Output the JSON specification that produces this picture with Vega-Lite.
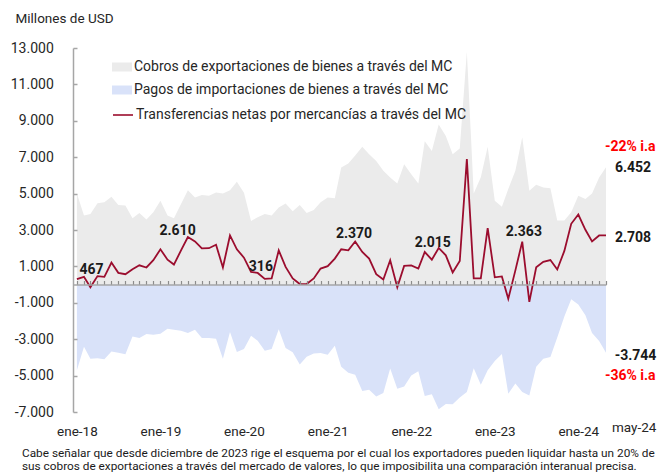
{
  "$schema": "https://vega.github.io/schema/vega-lite/v6.json",
  "width": 533,
  "height": 364,
  "autosize": {"type": "none"},
  "padding": {"left": 73, "top": 48, "right": 53, "bottom": 63},
  "background": "white",
  "config": {
    "font": "Roboto",
    "view": {"stroke": null},
    "axisY": {"labelOverlap": false, "labelSeparation": 0, "labelBound": false}
  },
  "title": {
    "text": [
      "Cabe señalar que desde diciembre de 2023 rige el esquema por el cual los exportadores pueden liquidar hasta un 20% de",
      "sus cobros de exportaciones a través del mercado de valores, lo que imposibilita una comparación interanual precisa."
    ],
    "orient": "bottom",
    "anchor": "start",
    "frame": "group",
    "dx": -51,
    "offset": 10,
    "fontSize": 11.8,
    "fontWeight": "normal",
    "font": "Roboto",
    "color": "#1a1a1a",
    "lineHeight": 13.5,
    "baseline": "top",
    "limit": 0
  },
  "datasets": {
    "main": [
      {"mes": "2018-01-01", "cobros": 5000, "pagos": -4700, "neto": 300},
      {"mes": "2018-02-01", "cobros": 3790, "pagos": -3420, "neto": 425},
      {"mes": "2018-03-01", "cobros": 3880, "pagos": -4080, "neto": -150},
      {"mes": "2018-04-01", "cobros": 4470, "pagos": -4050, "neto": 467},
      {"mes": "2018-05-01", "cobros": 4520, "pagos": -4100, "neto": 425},
      {"mes": "2018-06-01", "cobros": 4830, "pagos": -3670, "neto": 1210},
      {"mes": "2018-07-01", "cobros": 4380, "pagos": -3750, "neto": 645},
      {"mes": "2018-08-01", "cobros": 4340, "pagos": -3830, "neto": 570},
      {"mes": "2018-09-01", "cobros": 3650, "pagos": -2850, "neto": 845},
      {"mes": "2018-10-01", "cobros": 3940, "pagos": -2940, "neto": 1060},
      {"mes": "2018-11-01", "cobros": 3580, "pagos": -2720, "neto": 940},
      {"mes": "2018-12-01", "cobros": 3980, "pagos": -2750, "neto": 1340},
      {"mes": "2019-01-01", "cobros": 4610, "pagos": -2700, "neto": 1940},
      {"mes": "2019-02-01", "cobros": 3790, "pagos": -2430, "neto": 1370},
      {"mes": "2019-03-01", "cobros": 3650, "pagos": -2480, "neto": 1100},
      {"mes": "2019-04-01", "cobros": 4430, "pagos": -2530, "neto": 1880},
      {"mes": "2019-05-01", "cobros": 5190, "pagos": -2660, "neto": 2610},
      {"mes": "2019-06-01", "cobros": 4790, "pagos": -2480, "neto": 2370},
      {"mes": "2019-07-01", "cobros": 4920, "pagos": -2940, "neto": 1990},
      {"mes": "2019-08-01", "cobros": 4880, "pagos": -2940, "neto": 2000},
      {"mes": "2019-09-01", "cobros": 5060, "pagos": -2970, "neto": 2190},
      {"mes": "2019-10-01", "cobros": 5010, "pagos": -4080, "neto": 940},
      {"mes": "2019-11-01", "cobros": 5190, "pagos": -2610, "neto": 2700},
      {"mes": "2019-12-01", "cobros": 5650, "pagos": -3700, "neto": 1940},
      {"mes": "2020-01-01", "cobros": 5050, "pagos": -3540, "neto": 1480},
      {"mes": "2020-02-01", "cobros": 3500, "pagos": -2810, "neto": 700},
      {"mes": "2020-03-01", "cobros": 3700, "pagos": -3080, "neto": 640},
      {"mes": "2020-04-01", "cobros": 3880, "pagos": -3630, "neto": 316},
      {"mes": "2020-05-01", "cobros": 3790, "pagos": -3540, "neto": 340},
      {"mes": "2020-06-01", "cobros": 4240, "pagos": -2450, "neto": 1880},
      {"mes": "2020-07-01", "cobros": 4450, "pagos": -3480, "neto": 970},
      {"mes": "2020-08-01", "cobros": 4030, "pagos": -3720, "neto": 340},
      {"mes": "2020-09-01", "cobros": 4370, "pagos": -4390, "neto": 30},
      {"mes": "2020-10-01", "cobros": 3940, "pagos": -3970, "neto": 30},
      {"mes": "2020-11-01", "cobros": 4100, "pagos": -3790, "neto": 340},
      {"mes": "2020-12-01", "cobros": 4520, "pagos": -3760, "neto": 880},
      {"mes": "2021-01-01", "cobros": 4790, "pagos": -3850, "neto": 1010},
      {"mes": "2021-02-01", "cobros": 4750, "pagos": -3360, "neto": 1430},
      {"mes": "2021-03-01", "cobros": 6430, "pagos": -4520, "neto": 1940},
      {"mes": "2021-04-01", "cobros": 6650, "pagos": -4850, "neto": 1880},
      {"mes": "2021-05-01", "cobros": 7100, "pagos": -4950, "neto": 2370},
      {"mes": "2021-06-01", "cobros": 7570, "pagos": -5850, "neto": 1790},
      {"mes": "2021-07-01", "cobros": 7160, "pagos": -5780, "neto": 1430},
      {"mes": "2021-08-01", "cobros": 6790, "pagos": -6150, "neto": 570},
      {"mes": "2021-09-01", "cobros": 6250, "pagos": -5950, "neto": 280},
      {"mes": "2021-10-01", "cobros": 5880, "pagos": -4610, "neto": 1340},
      {"mes": "2021-11-01", "cobros": 5550, "pagos": -5720, "neto": -150},
      {"mes": "2021-12-01", "cobros": 6610, "pagos": -5600, "neto": 1030},
      {"mes": "2022-01-01", "cobros": 6070, "pagos": -5000, "neto": 1060},
      {"mes": "2022-02-01", "cobros": 5550, "pagos": -4760, "neto": 880},
      {"mes": "2022-03-01", "cobros": 7880, "pagos": -6120, "neto": 1790},
      {"mes": "2022-04-01", "cobros": 7340, "pagos": -6030, "neto": 1370},
      {"mes": "2022-05-01", "cobros": 8790, "pagos": -6850, "neto": 2015},
      {"mes": "2022-06-01", "cobros": 8160, "pagos": -6560, "neto": 1610},
      {"mes": "2022-07-01", "cobros": 7160, "pagos": -6570, "neto": 670},
      {"mes": "2022-08-01", "cobros": 7480, "pagos": -6200, "neto": 1300},
      {"mes": "2022-09-01", "cobros": 12800, "pagos": -5900, "neto": 6900},
      {"mes": "2022-10-01", "cobros": 5000, "pagos": -4600, "neto": 340},
      {"mes": "2022-11-01", "cobros": 5900, "pagos": -5500, "neto": 340},
      {"mes": "2022-12-01", "cobros": 7570, "pagos": -4700, "neto": 3100},
      {"mes": "2023-01-01", "cobros": 4610, "pagos": -4200, "neto": 400},
      {"mes": "2023-02-01", "cobros": 4280, "pagos": -3820, "neto": 450},
      {"mes": "2023-03-01", "cobros": 5250, "pagos": -6000, "neto": -780},
      {"mes": "2023-04-01", "cobros": 6250, "pagos": -5440, "neto": 780},
      {"mes": "2023-05-01", "cobros": 8100, "pagos": -5900, "neto": 2363},
      {"mes": "2023-06-01", "cobros": 5160, "pagos": -6100, "neto": -950},
      {"mes": "2023-07-01", "cobros": 5480, "pagos": -4520, "neto": 950},
      {"mes": "2023-08-01", "cobros": 5340, "pagos": -4080, "neto": 1250},
      {"mes": "2023-09-01", "cobros": 5300, "pagos": -3980, "neto": 1350},
      {"mes": "2023-10-01", "cobros": 3520, "pagos": -2900, "neto": 830},
      {"mes": "2023-11-01", "cobros": 3520, "pagos": -1750, "neto": 1850},
      {"mes": "2023-12-01", "cobros": 3970, "pagos": -800, "neto": 3340},
      {"mes": "2024-01-01", "cobros": 4880, "pagos": -1090, "neto": 3850},
      {"mes": "2024-02-01", "cobros": 4700, "pagos": -1690, "neto": 3010},
      {"mes": "2024-03-01", "cobros": 5010, "pagos": -2660, "neto": 2370},
      {"mes": "2024-04-01", "cobros": 5880, "pagos": -3100, "neto": 2700},
      {"mes": "2024-05-01", "cobros": 6452, "pagos": -3744, "neto": 2708}
    ],
    "etiquetas": [
      {"mes": "2018-03-06", "v": 790, "t": "467", "tipo": "valor"},
      {"mes": "2019-03-17", "v": 2945, "t": "2.610", "tipo": "valor"},
      {"mes": "2020-03-15", "v": 963, "t": "316", "tipo": "valor"},
      {"mes": "2021-04-26", "v": 2807, "t": "2.370", "tipo": "valor"},
      {"mes": "2022-04-05", "v": 2267, "t": "2.015", "tipo": "valor"},
      {"mes": "2023-05-08", "v": 2873, "t": "2.363", "tipo": "valor"},
      {"mes": "2024-08-27", "v": 6395, "t": "6.452", "tipo": "valor"},
      {"mes": "2024-08-27", "v": 2543, "t": "2.708", "tipo": "valor"},
      {"mes": "2024-09-07", "v": -3935, "t": "-3.744", "tipo": "valor"},
      {"mes": "2024-08-15", "v": 7584, "t": "-22% i.a", "tipo": "variacion"},
      {"mes": "2024-08-15", "v": -5019, "t": "-36% i.a", "tipo": "variacion"},
      {"mes": "2024-09-01", "v": -7881, "t": "may-24", "tipo": "eje"}
    ]
  },
  "encoding": {
    "x": {
      "field": "mes",
      "type": "temporal",
      "scale": {
        "type": "utc",
        "domain": [
          {"year": 2017, "month": 12, "date": 15, "utc": true},
          {"year": 2024, "month": 5, "date": 1, "utc": true}
        ]
      },
      "axis": {
        "orient": "bottom",
        "offset": -127.5,
        "tickCount": {"interval": "month", "step": 1},
        "tickSize": -4,
        "tickColor": "#8c8c8c",
        "tickWidth": 1.2,
        "domainColor": "#a6a6a6",
        "domainWidth": 1.5,
        "labelExpr": "utcmonth(datum.value) == 0 ? 'ene-' + utcFormat(datum.value, '%y') : ''",
        "labelPadding": 143.5,
        "labelFontSize": 13.5,
        "labelColor": "#262626",
        "labelFlush": false,
        "labelOverlap": false,
        "grid": false,
        "title": null,
        "zindex": 1
      }
    },
    "y": {
      "type": "quantitative",
      "scale": {"domain": [-7000, 13000], "nice": false, "zero": false},
      "axis": {
        "values": [-7000, -5000, -3000, -1000, 1000, 3000, 5000, 7000, 9000, 11000, 13000],
        "tickCount": 11,
        "labelExpr": "(datum.value < 0 ? '-' : '') + replace(format(abs(datum.value), ','), ',', '.')",
        "labelOverlap": false,
        "labelFlush": false,
        "tickSize": -4,
        "tickColor": "#a6a6a6",
        "tickWidth": 1.5,
        "domainColor": "#a6a6a6",
        "domainWidth": 1.5,
        "labelPadding": 23.7,
        "labelFontSize": 14,
        "labelColor": "#262626",
        "grid": false,
        "title": "Millones de USD",
        "titleAngle": 0,
        "titleX": -58,
        "titleY": -30,
        "titleAlign": "left",
        "titleBaseline": "middle",
        "titleFontSize": 13.5,
        "titleFontWeight": "normal",
        "titleColor": "#262626",
        "zindex": 1
      }
    }
  },
  "layer": [
    {
      "data": {"name": "main"},
      "mark": {"type": "area", "interpolate": "linear"},
      "encoding": {
        "y": {"field": "cobros"},
        "fill": {
          "datum": "Cobros de exportaciones de bienes a través del MC",
          "scale": {
            "domain": [
              "Cobros de exportaciones de bienes a través del MC",
              "Pagos de importaciones de bienes a través del MC"
            ],
            "range": ["#ebebeb", "#d9e2f9"]
          },
          "legend": {
            "orient": "none",
            "legendX": 39,
            "legendY": 9,
            "title": null,
            "padding": 0,
            "symbolType": "M-1,-0.45L1,-0.45L1,0.45L-1,0.45Z",
            "symbolSize": 400,
            "symbolStrokeWidth": 0,
            "labelFontSize": 14,
            "labelFont": "Roboto",
            "labelColor": "#262626",
            "labelOffset": 2,
            "labelLimit": 500,
            "rowPadding": 6
          }
        }
      }
    },
    {
      "data": {"name": "main"},
      "mark": {"type": "area", "interpolate": "linear"},
      "encoding": {
        "y": {"field": "pagos"},
        "fill": {"datum": "Pagos de importaciones de bienes a través del MC"}
      }
    },
    {
      "data": {"name": "main"},
      "mark": {"type": "line", "strokeWidth": 1.8, "interpolate": "linear"},
      "encoding": {
        "y": {"field": "neto"},
        "stroke": {
          "datum": "Transferencias netas por mercancías a través del MC",
          "scale": {
            "domain": ["Transferencias netas por mercancías a través del MC"],
            "range": ["#9b0d2e"]
          },
          "legend": {
            "orient": "none",
            "legendX": 39,
            "legendY": 56,
            "title": null,
            "padding": 0,
            "symbolType": "stroke",
            "symbolSize": 400,
            "symbolStrokeWidth": 1.6,
            "labelFontSize": 14,
            "labelFont": "Roboto",
            "labelColor": "#262626",
            "labelOffset": 2,
            "labelLimit": 500
          }
        }
      }
    },
    {
      "data": {"name": "etiquetas"},
      "transform": [{"filter": "datum.tipo == 'valor'"}],
      "mark": {"type": "text", "font": "Roboto", "fontSize": 14, "fontWeight": "bold", "align": "center", "baseline": "middle", "color": "#1a1a1a"},
      "encoding": {
        "y": {"field": "v"},
        "text": {"field": "t"}
      }
    },
    {
      "data": {"name": "etiquetas"},
      "transform": [{"filter": "datum.tipo == 'variacion'"}],
      "mark": {"type": "text", "font": "Roboto", "fontSize": 14, "fontWeight": "bold", "align": "center", "baseline": "middle", "color": "#ff0000"},
      "encoding": {
        "y": {"field": "v"},
        "text": {"field": "t"}
      }
    },
    {
      "data": {"name": "etiquetas"},
      "transform": [{"filter": "datum.tipo == 'eje'"}],
      "mark": {"type": "text", "font": "Roboto", "fontSize": 13.5, "align": "center", "baseline": "middle", "color": "#262626"},
      "encoding": {
        "y": {"field": "v"},
        "text": {"field": "t"}
      }
    }
  ]
}
